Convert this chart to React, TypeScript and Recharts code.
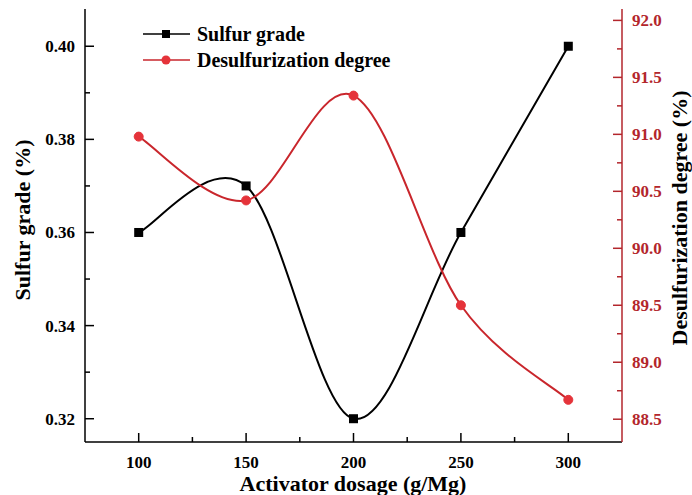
import React from 'react'
import { LineChart, Line, XAxis, YAxis, Legend } from 'recharts'

// activator dosage (g/Mg) and the two measured responses
const dosage = [100, 150, 200, 250, 300]
const sulfurGrade = [0.36, 0.37, 0.32, 0.36, 0.4]
const desulfurization = [90.98, 90.42, 91.34, 89.5, 88.67]

// major + minor tick positions
const dosageTicks = [100, 125, 150, 175, 200, 225, 250, 275, 300]
const gradeTicks = [0.32, 0.33, 0.34, 0.35, 0.36, 0.37, 0.38, 0.39, 0.4]
const degreeTicks = [88.5, 88.75, 89, 89.25, 89.5, 89.75, 90, 90.25, 90.5, 90.75, 91, 91.25, 91.5, 91.75, 92]

const seriesOrder = ['grade', 'degree']

const data = dosage.map((d, i) => ({
    dosage: d,
    grade: sulfurGrade[i],
    degree: desulfurization[i],
}))

const FONT = "'Liberation Serif', 'Times New Roman', serif"
const RED_LINE = '#c9262c'
const RED_DOT = '#e5333a'
const RED_AXIS = '#b3262c'

const labelStyle = { fontFamily: FONT, fontWeight: 'bold' as const, fontSize: 17 }
const titleStyle = { fontFamily: FONT, fontWeight: 'bold' as const, fontSize: 22, fill: '#000' }

// Catmull-Rom spline through the points (like the smooth connector in Origin)
const catmullRom = (context: any) => {
    let pts: [number, number][] = []
    return {
        areaStart() {},
        areaEnd() {},
        lineStart() {
            pts = []
        },
        lineEnd() {
            if (!pts.length) return
            context.moveTo(pts[0][0], pts[0][1])
            for (let i = 0; i < pts.length - 1; i++) {
                const p0 = pts[Math.max(i - 1, 0)]
                const p1 = pts[i]
                const p2 = pts[i + 1]
                const p3 = pts[Math.min(i + 2, pts.length - 1)]
                context.bezierCurveTo(
                    p1[0] + (p2[0] - p0[0]) / 6,
                    p1[1] + (p2[1] - p0[1]) / 6,
                    p2[0] - (p3[0] - p1[0]) / 6,
                    p2[1] - (p3[1] - p1[1]) / 6,
                    p2[0],
                    p2[1]
                )
            }
        },
        point(x: number, y: number) {
            pts.push([x, y])
        },
    }
}

const DosageTick = (props: any) => {
    const { x, y, payload } = props
    const major = payload.value % 50 === 0
    return (
        <g>
            <line x1={x} x2={x} y1={y} y2={y - (major ? 9 : 5)} stroke='#000' strokeWidth={1.5} />
            {major && (
                <text x={x} y={y + 26} textAnchor='middle' style={labelStyle} fill='#000'>
                    {payload.value}
                </text>
            )}
        </g>
    )
}

const GradeTick = (props: any) => {
    const { x, y, payload } = props
    const major = Math.round(payload.value * 100) % 2 === 0
    return (
        <g>
            <line x1={x} x2={x + (major ? 9 : 5)} y1={y} y2={y} stroke='#000' strokeWidth={1.5} />
            {major && (
                <text x={x - 10} y={y + 6} textAnchor='end' style={labelStyle} fill='#000'>
                    {payload.value.toFixed(2)}
                </text>
            )}
        </g>
    )
}

const DegreeTick = (props: any) => {
    const { x, y, payload } = props
    const major = Number.isInteger(payload.value * 2)
    return (
        <g>
            <line x1={x} x2={x - (major ? 9 : 5)} y1={y} y2={y} stroke={RED_AXIS} strokeWidth={1.5} />
            {major && (
                <text x={x + 10} y={y + 6} textAnchor='start' style={labelStyle} fill={RED_AXIS}>
                    {payload.value.toFixed(1)}
                </text>
            )}
        </g>
    )
}

const SquareDot = (props: any) => {
    const { cx, cy, index } = props
    return <rect key={`sq-${index}`} x={cx - 4.5} y={cy - 4.5} width={9} height={9} fill='#000' />
}

const LegendBox = (props: any) => {
    const items = [...(props.payload || [])].sort(
        (a: any, b: any) => seriesOrder.indexOf(a.dataKey) - seriesOrder.indexOf(b.dataKey)
    )
    return (
        <svg width={280} height={56}>
            {items.map((item: any, i: number) => {
                const cy = 14 + i * 26
                const isGrade = item.dataKey === 'grade'
                return (
                    <g key={item.value}>
                        <line x1={3} x2={50} y1={cy} y2={cy} stroke={isGrade ? '#000' : RED_LINE} strokeWidth={1.5} />
                        {isGrade ? (
                            <rect x={22} y={cy - 4} width={8} height={8} fill='#000' />
                        ) : (
                            <circle cx={26} cy={cy} r={4.5} fill={RED_DOT} />
                        )}
                        <text x={57} y={cy + 7} style={{ ...labelStyle, fontSize: 20 }} fill='#000'>
                            {item.value}
                        </text>
                    </g>
                )
            })}
        </svg>
    )
}

export default function App() {
    return (
        <div style={{ position: 'absolute', left: 0, top: 0 }}>
            <LineChart width={692} height={495} data={data} margin={{ top: 9, right: 0, bottom: 0, left: 0 }}>
                <XAxis
                    dataKey='dosage'
                    type='number'
                    domain={[75, 325]}
                    ticks={dosageTicks}
                    interval={0}
                    height={53}
                    tickSize={0}
                    tickMargin={0}
                    tickLine={false}
                    tick={<DosageTick />}
                    axisLine={{ stroke: '#000', strokeWidth: 1.5 }}
                    allowDataOverflow
                    label={{
                        content: () => (
                            <text x={353} y={491} textAnchor='middle' style={titleStyle}>
                                Activator dosage (g/Mg)
                            </text>
                        ),
                    }}
                />
                <XAxis
                    xAxisId='top'
                    orientation='top'
                    type='number'
                    domain={[75, 325]}
                    height={0}
                    tick={false}
                    tickLine={false}
                    axisLine={{ stroke: '#000', strokeWidth: 1.5 }}
                    allowDataOverflow
                />
                <YAxis
                    yAxisId='grade'
                    orientation='left'
                    width={85}
                    domain={[0.315, 0.408]}
                    ticks={gradeTicks}
                    interval={0}
                    tickSize={0}
                    tickMargin={0}
                    tickLine={false}
                    tick={<GradeTick />}
                    axisLine={{ stroke: '#000', strokeWidth: 1.5 }}
                    allowDataOverflow
                    label={{
                        content: () => (
                            <text transform='translate(30,220) rotate(-90)' textAnchor='middle' style={titleStyle}>
                                Sulfur grade (%)
                            </text>
                        ),
                    }}
                />
                <YAxis
                    yAxisId='degree'
                    orientation='right'
                    width={70}
                    domain={[88.3, 92.1]}
                    ticks={degreeTicks}
                    interval={0}
                    tickSize={0}
                    tickMargin={0}
                    tickLine={false}
                    tick={<DegreeTick />}
                    axisLine={{ stroke: RED_AXIS, strokeWidth: 1.5 }}
                    allowDataOverflow
                    label={{
                        content: () => (
                            <text transform='translate(687,218) rotate(-90)' textAnchor='middle' style={titleStyle}>
                                Desulfurization degree (%)
                            </text>
                        ),
                    }}
                />
                <Legend
                    layout='horizontal'
                    verticalAlign='middle'
                    align='center'
                    wrapperStyle={{ left: 140, top: 20, width: 280, height: 56 }}
                    content={<LegendBox />}
                />
                <Line
                    yAxisId='grade'
                    dataKey='grade'
                    name='Sulfur grade'
                    type={catmullRom as any}
                    stroke='#000'
                    strokeWidth={2}
                    dot={<SquareDot />}
                    activeDot={false}
                    isAnimationActive={false}
                />
                <Line
                    yAxisId='degree'
                    dataKey='degree'
                    name='Desulfurization degree'
                    type={catmullRom as any}
                    stroke={RED_LINE}
                    strokeWidth={2}
                    dot={{ r: 4.5, fill: RED_DOT, stroke: RED_DOT, strokeWidth: 1 }}
                    activeDot={false}
                    isAnimationActive={false}
                />
            </LineChart>
        </div>
    )
}
